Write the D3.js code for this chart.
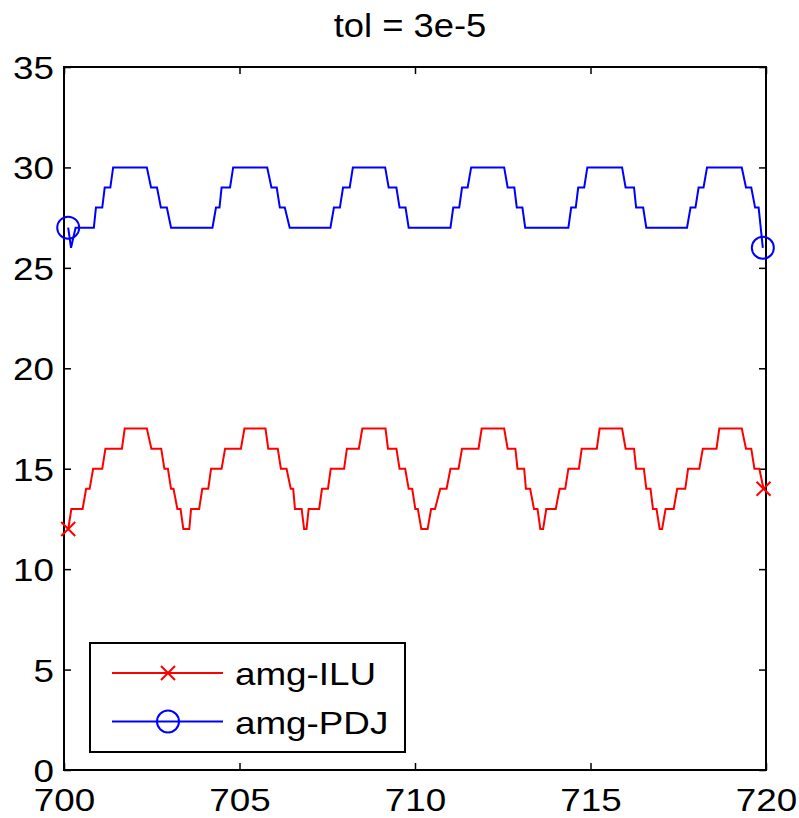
<!DOCTYPE html>
<html>
<head>
<meta charset="utf-8">
<script src="https://cdn.jsdelivr.net/npm/d3@7"></script>
<style>
  body { margin: 0; background: #fff; }
  text { font-family: "Liberation Sans", Arial, Helvetica, sans-serif; }
</style>
</head>
<body>
<svg id="chart"></svg>
<script>
// chart data
const title = "tol = 3e-5";
const xTicks = [700, 705, 710, 715, 720];
const yTicks = [0, 5, 10, 15, 20, 25, 30, 35];
const seriesNames = ["amg-ILU", "amg-PDJ"];
const seriesColors = ["#ff0000", "#0000ff"];

const iluX = [700.12,700.21,700.53,700.63,700.73,700.83,701.09,701.18,701.65,701.73,702.36,702.49,702.77,702.86,702.96,703.05,703.12,703.23,703.32,703.40,
  703.57,703.62,703.85,703.94,704.11,704.19,704.49,704.59,705.04,705.14,705.74,705.82,706.09,706.18,706.34,706.46,706.53,706.58,706.77,706.84,
  706.91,706.97,707.27,707.35,707.52,707.60,707.98,708.06,708.40,708.50,709.16,709.23,709.47,709.56,709.72,709.82,709.92,710.01,710.08,710.18,
  710.36,710.46,710.57,710.72,710.90,711.01,711.24,711.34,711.81,711.90,712.54,712.64,712.86,712.92,713.11,713.16,713.28,713.39,713.49,713.57,
  713.65,713.74,714.01,714.12,714.28,714.37,714.67,714.75,715.18,715.26,715.90,716.00,716.24,716.30,716.52,716.59,716.71,716.78,716.88,716.97,
  717.04,717.14,717.37,717.47,717.70,717.78,718.10,718.20,718.59,718.67,719.31,719.43,719.58,719.67,719.81,719.93];
const iluY = [12,13,13,14,14,15,15,16,16,17,17,16,16,15,15,14,14,13,13,12,
  12,13,13,14,14,15,15,16,16,17,17,16,16,15,15,14,14,13,13,12,
  12,13,13,14,14,15,15,16,16,17,17,16,16,15,15,14,14,13,13,12,
  12,13,13,14,14,15,15,16,16,17,17,16,16,15,15,14,14,13,13,12,
  12,13,13,14,14,15,15,16,16,17,17,16,16,15,15,14,14,13,13,12,
  12,13,13,14,14,15,15,16,16,17,17,16,16,15,15,14];

const pdjX = [700.12,700.20,700.33,700.85,700.91,701.09,701.16,701.32,701.40,702.36,702.48,702.65,702.76,702.93,703.05,
  704.23,704.33,704.43,704.49,704.73,704.82,705.79,705.91,706.06,706.15,706.29,706.43,
  707.59,707.69,707.86,707.95,708.14,708.23,709.15,709.25,709.47,709.56,709.73,709.82,
  711.01,711.09,711.26,711.34,711.50,711.60,712.54,712.64,712.83,712.90,713.06,713.14,
  714.37,714.45,714.58,714.65,714.82,714.91,715.90,716.00,716.24,716.30,716.50,716.59,
  717.75,717.85,717.99,718.08,718.22,718.32,719.31,719.43,719.58,719.69,719.79,719.91];
const pdjY = [27,26,27,27,28,28,29,29,30,30,29,29,28,28,27,
  27,28,28,29,29,30,30,29,29,28,28,27,
  27,28,28,29,29,30,30,29,29,28,28,27,
  27,28,28,29,29,30,30,29,29,28,28,27,
  27,28,28,29,29,30,30,29,29,28,28,27,
  27,28,28,29,29,30,30,29,29,28,28,26];

const width = 799;
const height = 818;
const marginTop = 67;
const marginRight = 33;
const marginBottom = 48;
const marginLeft = 64;
const fontSize = 32;
// the reference font is a bit wider than Liberation Sans
const stretch = 1.15;

const x = d3.scaleLinear()
    .domain([700, 720])
    .range([marginLeft, width - marginRight]);

const y = d3.scaleLinear()
    .domain([0, 35])
    .range([height - marginBottom, marginTop]);

const svg = d3.select("#chart")
    .attr("width", width)
    .attr("height", height);

// ticks point inwards on all four sides, labels only bottom and left
svg.append("g")
    .attr("transform", `translate(0,${y(0)})`)
    .call(d3.axisBottom(x).tickValues(xTicks).tickSize(-7))
    .call(g => g.select(".domain").remove())
    .call(g => g.selectAll("text").attr("dy", null).attr("y", 41)
        .attr("transform", `scale(${stretch},1)`));

svg.append("g")
    .attr("transform", `translate(0,${y(35)})`)
    .call(d3.axisTop(x).tickValues(xTicks).tickSize(-7).tickFormat(""))
    .call(g => g.select(".domain").remove());

svg.append("g")
    .attr("transform", `translate(${x(700)},0)`)
    .call(d3.axisLeft(y).tickValues(yTicks).tickSize(-7))
    .call(g => g.select(".domain").remove())
    .call(g => g.selectAll("text").attr("dy", "0.36em").attr("x", -10 / stretch)
        .attr("transform", `scale(${stretch},1)`));

svg.append("g")
    .attr("transform", `translate(${x(720)},0)`)
    .call(d3.axisRight(y).tickValues(yTicks).tickSize(-7).tickFormat(""))
    .call(g => g.select(".domain").remove());

svg.selectAll(".tick line").attr("stroke", "#000").attr("stroke-width", 1.5);
svg.selectAll(".tick text")
    .attr("fill", "#000")
    .style("font-size", fontSize + "px");

svg.append("rect")
    .attr("x", x(700))
    .attr("y", y(35))
    .attr("width", x(720) - x(700))
    .attr("height", y(0) - y(35))
    .attr("fill", "none")
    .attr("stroke", "#000")
    .attr("stroke-width", 2);

svg.append("g")
    .attr("transform", "translate(410,37)")
  .append("text")
    .attr("text-anchor", "middle")
    .attr("transform", "scale(1.07,1)")
    .style("font-size", "34px")
    .text(title);

const series = [
  {name: seriesNames[0], color: seriesColors[0], marker: "x", xs: iluX, ys: iluY},
  {name: seriesNames[1], color: seriesColors[1], marker: "o", xs: pdjX, ys: pdjY}
];

const line = d3.line()
    .x(d => x(d[0]))
    .y(d => y(d[1]));

function drawMarker(g, kind, cx, cy, color) {
  if (kind === "x") {
    const s = 7;
    g.append("path")
        .attr("d", `M${cx - s},${cy - s}L${cx + s},${cy + s}M${cx - s},${cy + s}L${cx + s},${cy - s}`)
        .attr("stroke", color)
        .attr("stroke-width", 2)
        .attr("fill", "none");
  } else {
    g.append("circle")
        .attr("cx", cx)
        .attr("cy", cy)
        .attr("r", 11)
        .attr("stroke", color)
        .attr("stroke-width", 2)
        .attr("fill", "none");
  }
}

series.forEach(s => {
  const pts = s.xs.map((v, i) => [v, s.ys[i]]);
  svg.append("path")
      .datum(pts)
      .attr("d", line)
      .attr("fill", "none")
      .attr("stroke", s.color)
      .attr("stroke-width", 2)
      .attr("stroke-linejoin", "miter");
  const g = svg.append("g");
  [pts[0], pts[pts.length - 1]].forEach(p => drawMarker(g, s.marker, x(p[0]), y(p[1]), s.color));
});

// legend
const legend = svg.append("g");
legend.append("rect")
    .attr("x", 90)
    .attr("y", 643)
    .attr("width", 315)
    .attr("height", 109)
    .attr("fill", "#fff")
    .attr("stroke", "#000")
    .attr("stroke-width", 2);

series.forEach((s, i) => {
  const ly = 673 + i * 48.5;
  legend.append("line")
      .attr("x1", 112).attr("x2", 223)
      .attr("y1", ly).attr("y2", ly)
      .attr("stroke", s.color)
      .attr("stroke-width", 2);
  drawMarker(legend, s.marker, 168, ly, s.color);
  legend.append("g")
      .attr("transform", `translate(235,${ly + 12})`)
    .append("text")
      .attr("transform", `scale(${stretch},1)`)
      .style("font-size", fontSize + "px")
      .text(s.name);
});
</script>
</body>
</html>
